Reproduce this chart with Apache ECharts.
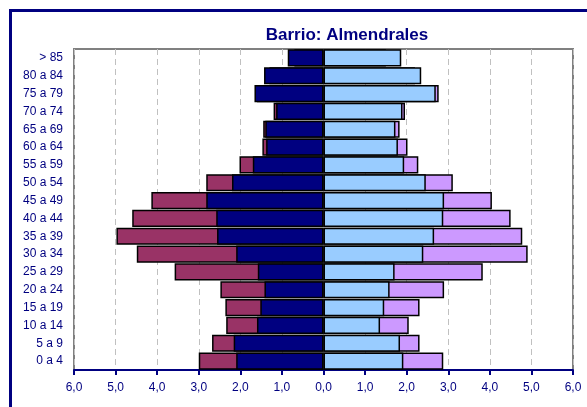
<!DOCTYPE html>
<html>
<head>
<meta charset="utf-8">
<script src="https://cdn.jsdelivr.net/npm/echarts@6/dist/echarts.min.js"></script>
<style>
  html, body { margin: 0; padding: 0; background: #fff; }
  #chart { width: 587px; height: 407px; }
</style>
</head>
<body>
<div id="chart"></div>
<script>
// grupos de edad (de abajo hacia arriba)
const categorias = ['0 a 4', '5 a 9', '10 a 14', '15 a 19', '20 a 24', '25 a 29', '30 a 34', '35 a 39',
    '40 a 44', '45 a 49', '50 a 54', '55 a 59', '60 a 64', '65 a 69', '70 a 74', '75 a 79', '80 a 84', '> 85'];

// lado izquierdo (hombres)
const hombresBarrio = [2.10, 2.16, 1.60, 1.52, 1.42, 1.58, 2.10, 2.56, 2.58, 2.82, 2.20, 1.70, 1.38, 1.40, 1.14, 1.66, 1.43, 0.86];
const hombresTotal  = [3.00, 2.68, 2.34, 2.36, 2.48, 3.58, 4.49, 4.98, 4.60, 4.14, 2.82, 2.02, 1.47, 1.45, 1.20, 1.60, 1.30, 0.70];

// lado derecho (mujeres)
const mujeresBarrio = [1.92, 1.84, 1.36, 1.46, 1.59, 1.71, 2.40, 2.66, 2.88, 2.90, 2.46, 1.94, 1.79, 1.73, 1.90, 2.70, 2.35, 1.87];
const mujeresTotal  = [2.88, 2.31, 2.05, 2.31, 2.90, 3.83, 4.91, 4.78, 4.50, 4.05, 3.11, 2.28, 2.02, 1.83, 1.96, 2.77, 2.20, 1.50];

const ticksX = [-6, -5, -4, -3, -2, -1, 0, 1, 2, 3, 4, 5, 6];

const negar = arr => arr.map(v => -v);

document.addEventListener('DOMContentLoaded', function() {
    const chart = echarts.init(document.getElementById('chart'));
    const borde = { borderColor: '#000', borderWidth: 1.5 };
    const fuente = 'Arial, "Liberation Sans", sans-serif';

    const option = {
        animation: false,
        title: {
            text: 'Barrio: Almendrales',
            left: 342,
            top: 22,
            textAlign: 'center',
            textStyle: { color: '#000080', fontSize: 17, fontWeight: 'bold', fontFamily: fuente }
        },
        graphic: [{
            type: 'rect',
            shape: { x: 10.5, y: 10.5, width: 620, height: 440 },
            style: { fill: null, stroke: '#000080', lineWidth: 3 },
            z: 100
        }],
        grid: {
            left: 74, right: 14, top: 49, bottom: 37,
            show: true, borderColor: '#808080', borderWidth: 2
        },
        xAxis: {
            type: 'value',
            min: ticksX[0],
            max: ticksX[ticksX.length - 1],
            interval: 1,
            axisLine: { show: true, onZero: false, lineStyle: { color: '#000080', width: 2 } },
            axisTick: { show: true, length: 5, lineStyle: { color: '#000080', width: 2 } },
            axisLabel: {
                color: '#000080', fontSize: 12, fontFamily: fuente, margin: 12,
                formatter: v => Math.abs(v).toFixed(1).replace('.', ',')
            },
            splitLine: { show: true, lineStyle: { color: '#c0c0c0', type: [6, 4], width: 1 } }
        },
        yAxis: {
            type: 'category',
            data: categorias,
            axisLine: { show: false },
            axisTick: { show: false },
            axisLabel: { color: '#000080', fontSize: 12, fontFamily: fuente, margin: 11 }
        },
        series: [
            { name: 'Hombres total', type: 'bar', data: negar(hombresTotal), barGap: '-100%', barCategoryGap: '4%',
              itemStyle: Object.assign({ color: '#993366' }, borde) },
            { name: 'Mujeres total', type: 'bar', data: mujeresTotal, barGap: '-100%', barCategoryGap: '4%',
              itemStyle: Object.assign({ color: '#CC99FF' }, borde) },
            { name: 'Hombres barrio', type: 'bar', data: negar(hombresBarrio), barGap: '-100%', barCategoryGap: '4%',
              itemStyle: Object.assign({ color: '#000080' }, borde) },
            { name: 'Mujeres barrio', type: 'bar', data: mujeresBarrio, barGap: '-100%', barCategoryGap: '4%',
              itemStyle: Object.assign({ color: '#99CCFF' }, borde) }
        ]
    };
    chart.setOption(option);
});
</script>
</body>
</html>
